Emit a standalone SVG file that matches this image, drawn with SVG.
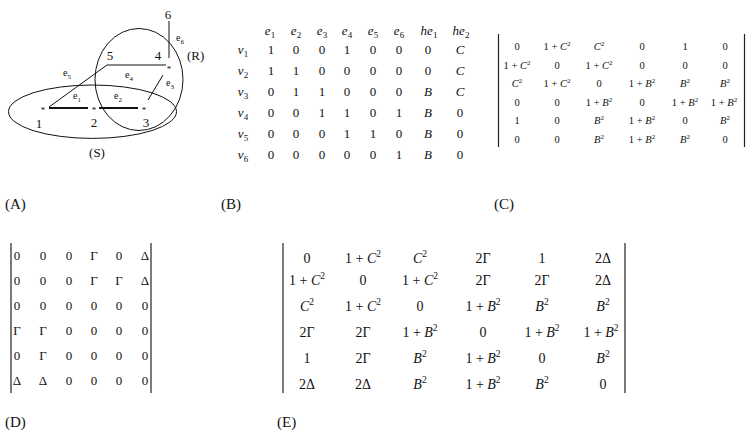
<svg xmlns="http://www.w3.org/2000/svg" width="746" height="432" viewBox="0 0 746 432">
<style>
text{font-family:"Liberation Serif","Times New Roman",serif;fill:#111}
.g{font-size:13px}
.gl{font-size:10px}
.st{font-size:9px}
.cap{font-size:15px}
.b{font-size:13px;text-anchor:middle}
.i{font-style:italic}
.sub{font-style:normal;font-size:9px}
.c{font-size:10.5px;text-anchor:middle}
.d{font-size:13px;text-anchor:middle}
.e{font-size:14px;text-anchor:middle}
.ln{stroke:#111;stroke-width:1;fill:none}
.th{stroke:#111;stroke-width:2.2;fill:none}
.bar{stroke:#222;stroke-width:1.2}
</style>
<rect width="746" height="432" fill="#fff"/>
<g id="panelA">
<g id="sets">
<ellipse class="ln" cx="92.5" cy="111.7" rx="84" ry="26.7"/>
<ellipse class="ln" cx="139" cy="79.5" rx="44" ry="51"/>
<text class="g" x="187" y="60">(R)</text>
<text class="g" x="97" y="157" text-anchor="middle">(S)</text>
</g>
<g id="connectors">
<line class="ln" x1="169" y1="21" x2="169" y2="58"/>
<line class="ln" x1="107" y1="65" x2="166" y2="65"/>
<line class="ln" x1="107" y1="65" x2="49" y2="107"/>
<line class="ln" x1="163" y1="75" x2="148" y2="100"/>
<line class="th" x1="49" y1="108" x2="88" y2="108"/>
<line class="th" x1="99" y1="108" x2="138" y2="108"/>
<text class="gl" x="176" y="41">e<tspan font-size="7" dy="3">6</tspan></text>
<text class="gl" x="125" y="78">e<tspan font-size="7" dy="3">4</tspan></text>
<text class="gl" x="63" y="76">e<tspan font-size="7" dy="3">5</tspan></text>
<text class="gl" x="166" y="86">e<tspan font-size="7" dy="3">3</tspan></text>
<text class="gl" x="73" y="99">e<tspan font-size="7" dy="3">1</tspan></text>
<text class="gl" x="114" y="99">e<tspan font-size="7" dy="3">2</tspan></text>
</g>
<g id="n6"><text class="g" x="168" y="19" text-anchor="middle">6</text></g>
<g id="n5"><text class="g" x="110" y="60" text-anchor="middle">5</text></g>
<g id="n4"><text class="g" x="158" y="60" text-anchor="middle">4</text><text class="st" x="169" y="72" text-anchor="middle">*</text></g>
<g id="n1"><text class="st" x="43" y="113" text-anchor="middle">*</text><text class="g" x="39" y="128" text-anchor="middle">1</text></g>
<g id="n2"><text class="st" x="94" y="113" text-anchor="middle">*</text><text class="g" x="94" y="127" text-anchor="middle">2</text></g>
<g id="n3"><text class="st" x="144" y="113" text-anchor="middle">*</text><text class="g" x="146" y="127" text-anchor="middle">3</text></g>
</g>
<g id="captions">
<text class="cap" x="5" y="209">(A)</text>
<text class="cap" x="221" y="209">(B)</text>
<text class="cap" x="494" y="209">(C)</text>
<text class="cap" x="5" y="427">(D)</text>
<text class="cap" x="277" y="427">(E)</text>
</g>
<g id="matrixB">
<g class="b i">
<text x="270" y="35">e<tspan class="sub" dy="3">1</tspan></text>
<text x="296" y="35">e<tspan class="sub" dy="3">2</tspan></text>
<text x="322" y="35">e<tspan class="sub" dy="3">3</tspan></text>
<text x="347" y="35">e<tspan class="sub" dy="3">4</tspan></text>
<text x="373" y="35">e<tspan class="sub" dy="3">5</tspan></text>
<text x="399" y="35">e<tspan class="sub" dy="3">6</tspan></text>
<text x="429" y="35">he<tspan class="sub" dy="3">1</tspan></text>
<text x="461" y="35">he<tspan class="sub" dy="3">2</tspan></text>
<text x="243" y="54">v<tspan class="sub" dy="3">1</tspan></text>
<text x="243" y="75">v<tspan class="sub" dy="3">2</tspan></text>
<text x="243" y="96">v<tspan class="sub" dy="3">3</tspan></text>
<text x="243" y="117">v<tspan class="sub" dy="3">4</tspan></text>
<text x="243" y="138">v<tspan class="sub" dy="3">5</tspan></text>
<text x="243" y="159">v<tspan class="sub" dy="3">6</tspan></text>
</g>
<g class="b">
<text y="54"><tspan x="271">1</tspan><tspan x="296">0</tspan><tspan x="322">0</tspan><tspan x="347">1</tspan><tspan x="373">0</tspan><tspan x="399">0</tspan><tspan x="428">0</tspan><tspan x="460" font-style="italic">C</tspan></text>
<text y="75"><tspan x="271">1</tspan><tspan x="296">1</tspan><tspan x="322">0</tspan><tspan x="347">0</tspan><tspan x="373">0</tspan><tspan x="399">0</tspan><tspan x="428">0</tspan><tspan x="460" font-style="italic">C</tspan></text>
<text y="96"><tspan x="271">0</tspan><tspan x="296">1</tspan><tspan x="322">1</tspan><tspan x="347">0</tspan><tspan x="373">0</tspan><tspan x="399">0</tspan><tspan x="428" font-style="italic">B</tspan><tspan x="460" font-style="italic">C</tspan></text>
<text y="117"><tspan x="271">0</tspan><tspan x="296">0</tspan><tspan x="322">1</tspan><tspan x="347">1</tspan><tspan x="373">0</tspan><tspan x="399">1</tspan><tspan x="428" font-style="italic">B</tspan><tspan x="460">0</tspan></text>
<text y="138"><tspan x="271">0</tspan><tspan x="296">0</tspan><tspan x="322">0</tspan><tspan x="347">1</tspan><tspan x="373">1</tspan><tspan x="399">0</tspan><tspan x="428" font-style="italic">B</tspan><tspan x="460">0</tspan></text>
<text y="159"><tspan x="271">0</tspan><tspan x="296">0</tspan><tspan x="322">0</tspan><tspan x="347">0</tspan><tspan x="373">0</tspan><tspan x="399">1</tspan><tspan x="428" font-style="italic">B</tspan><tspan x="460">0</tspan></text>
</g>
</g>
<g id="matrixC">
<line class="bar" x1="498.5" y1="34" x2="498.5" y2="147"/>
<line class="bar" x1="744.5" y1="34" x2="744.5" y2="147"/>
<g class="c">
<text y="50"><tspan x="517">0</tspan><tspan x="557">1 + <tspan font-style="italic">C</tspan><tspan font-size="7" dy="-4">2</tspan></tspan><tspan x="599" dy="4" font-style="italic">C</tspan><tspan font-size="7" dy="-4">2</tspan><tspan x="642" dy="4">0</tspan><tspan x="685">1</tspan><tspan x="725">0</tspan></text>
<text y="68.5"><tspan x="517">1 + <tspan font-style="italic">C</tspan><tspan font-size="7" dy="-4">2</tspan></tspan><tspan x="557" dy="4">0</tspan><tspan x="599">1 + <tspan font-style="italic">C</tspan><tspan font-size="7" dy="-4">2</tspan></tspan><tspan x="642" dy="4">0</tspan><tspan x="685">0</tspan><tspan x="725">0</tspan></text>
<text y="87"><tspan x="517" font-style="italic">C</tspan><tspan font-size="7" dy="-4">2</tspan><tspan x="557" dy="4">1 + <tspan font-style="italic">C</tspan><tspan font-size="7" dy="-4">2</tspan></tspan><tspan x="599" dy="4">0</tspan><tspan x="642">1 + <tspan font-style="italic">B</tspan><tspan font-size="7" dy="-4">2</tspan></tspan><tspan x="685" dy="4" font-style="italic">B</tspan><tspan font-size="7" dy="-4">2</tspan><tspan x="725" dy="4" font-style="italic">B</tspan><tspan font-size="7" dy="-4">2</tspan></text>
<text y="105.5"><tspan x="517">0</tspan><tspan x="557">0</tspan><tspan x="599">1 + <tspan font-style="italic">B</tspan><tspan font-size="7" dy="-4">2</tspan></tspan><tspan x="642" dy="4">0</tspan><tspan x="685">1 + <tspan font-style="italic">B</tspan><tspan font-size="7" dy="-4">2</tspan></tspan><tspan x="724" dy="4">1 + <tspan font-style="italic">B</tspan><tspan font-size="7" dy="-4">2</tspan></tspan></text>
<text y="124"><tspan x="517">1</tspan><tspan x="557">0</tspan><tspan x="599" font-style="italic">B</tspan><tspan font-size="7" dy="-4">2</tspan><tspan x="642" dy="4">1 + <tspan font-style="italic">B</tspan><tspan font-size="7" dy="-4">2</tspan></tspan><tspan x="685" dy="4">0</tspan><tspan x="725" font-style="italic">B</tspan><tspan font-size="7" dy="-4">2</tspan></text>
<text y="142.5"><tspan x="517">0</tspan><tspan x="557">0</tspan><tspan x="599" font-style="italic">B</tspan><tspan font-size="7" dy="-4">2</tspan><tspan x="642" dy="4">1 + <tspan font-style="italic">B</tspan><tspan font-size="7" dy="-4">2</tspan></tspan><tspan x="685" dy="4" font-style="italic">B</tspan><tspan font-size="7" dy="-4">2</tspan><tspan x="725" dy="4">0</tspan></text>
</g>
</g>
<g id="matrixD">
<line class="bar" x1="11" y1="243" x2="11" y2="393"/>
<line class="bar" x1="151" y1="243" x2="151" y2="393"/>
<g class="d">
<text y="260"><tspan x="17">0</tspan><tspan x="43">0</tspan><tspan x="69">0</tspan><tspan x="94">Γ</tspan><tspan x="119">0</tspan><tspan x="145">Δ</tspan></text>
<text y="285"><tspan x="17">0</tspan><tspan x="43">0</tspan><tspan x="69">0</tspan><tspan x="94">Γ</tspan><tspan x="119">Γ</tspan><tspan x="145">Δ</tspan></text>
<text y="310"><tspan x="17">0</tspan><tspan x="43">0</tspan><tspan x="69">0</tspan><tspan x="94">0</tspan><tspan x="119">0</tspan><tspan x="145">0</tspan></text>
<text y="335"><tspan x="17">Γ</tspan><tspan x="43">Γ</tspan><tspan x="69">0</tspan><tspan x="94">0</tspan><tspan x="119">0</tspan><tspan x="145">0</tspan></text>
<text y="360"><tspan x="17">0</tspan><tspan x="43">Γ</tspan><tspan x="69">0</tspan><tspan x="94">0</tspan><tspan x="119">0</tspan><tspan x="145">0</tspan></text>
<text y="385"><tspan x="17">Δ</tspan><tspan x="43">Δ</tspan><tspan x="69">0</tspan><tspan x="94">0</tspan><tspan x="119">0</tspan><tspan x="145">0</tspan></text>
</g>
</g>
<g id="matrixE">
<line class="bar" x1="283" y1="243" x2="283" y2="393"/>
<line class="bar" x1="625" y1="243" x2="625" y2="393"/>
<g class="e">
<text y="263"><tspan x="307">0</tspan><tspan x="363">1 + <tspan font-style="italic">C</tspan><tspan font-size="9.5" dy="-6">2</tspan></tspan><tspan x="420" dy="6" font-style="italic">C</tspan><tspan font-size="9.5" dy="-6">2</tspan><tspan x="483" dy="6">2Γ</tspan><tspan x="542">1</tspan><tspan x="603">2Δ</tspan></text>
<text y="285"><tspan x="307">1 + <tspan font-style="italic">C</tspan><tspan font-size="9.5" dy="-6">2</tspan></tspan><tspan x="363" dy="6">0</tspan><tspan x="420">1 + <tspan font-style="italic">C</tspan><tspan font-size="9.5" dy="-6">2</tspan></tspan><tspan x="483" dy="6">2Γ</tspan><tspan x="542">2Γ</tspan><tspan x="603">2Δ</tspan></text>
<text y="311"><tspan x="307" font-style="italic">C</tspan><tspan font-size="9.5" dy="-6">2</tspan><tspan x="363" dy="6">1 + <tspan font-style="italic">C</tspan><tspan font-size="9.5" dy="-6">2</tspan></tspan><tspan x="420" dy="6">0</tspan><tspan x="483">1 + <tspan font-style="italic">B</tspan><tspan font-size="9.5" dy="-6">2</tspan></tspan><tspan x="542" dy="6" font-style="italic">B</tspan><tspan font-size="9.5" dy="-6">2</tspan><tspan x="603" dy="6" font-style="italic">B</tspan><tspan font-size="9.5" dy="-6">2</tspan></text>
<text y="337"><tspan x="307">2Γ</tspan><tspan x="363">2Γ</tspan><tspan x="420">1 + <tspan font-style="italic">B</tspan><tspan font-size="9.5" dy="-6">2</tspan></tspan><tspan x="483" dy="6">0</tspan><tspan x="542">1 + <tspan font-style="italic">B</tspan><tspan font-size="9.5" dy="-6">2</tspan></tspan><tspan x="601" dy="6">1 + <tspan font-style="italic">B</tspan><tspan font-size="9.5" dy="-6">2</tspan></tspan></text>
<text y="363"><tspan x="307">1</tspan><tspan x="363">2Γ</tspan><tspan x="420" font-style="italic">B</tspan><tspan font-size="9.5" dy="-6">2</tspan><tspan x="483" dy="6">1 + <tspan font-style="italic">B</tspan><tspan font-size="9.5" dy="-6">2</tspan></tspan><tspan x="542" dy="6">0</tspan><tspan x="603" font-style="italic">B</tspan><tspan font-size="9.5" dy="-6">2</tspan></text>
<text y="389"><tspan x="307">2Δ</tspan><tspan x="363">2Δ</tspan><tspan x="420" font-style="italic">B</tspan><tspan font-size="9.5" dy="-6">2</tspan><tspan x="483" dy="6">1 + <tspan font-style="italic">B</tspan><tspan font-size="9.5" dy="-6">2</tspan></tspan><tspan x="542" dy="6" font-style="italic">B</tspan><tspan font-size="9.5" dy="-6">2</tspan><tspan x="603" dy="6">0</tspan></text>
</g>
</g>
</svg>
